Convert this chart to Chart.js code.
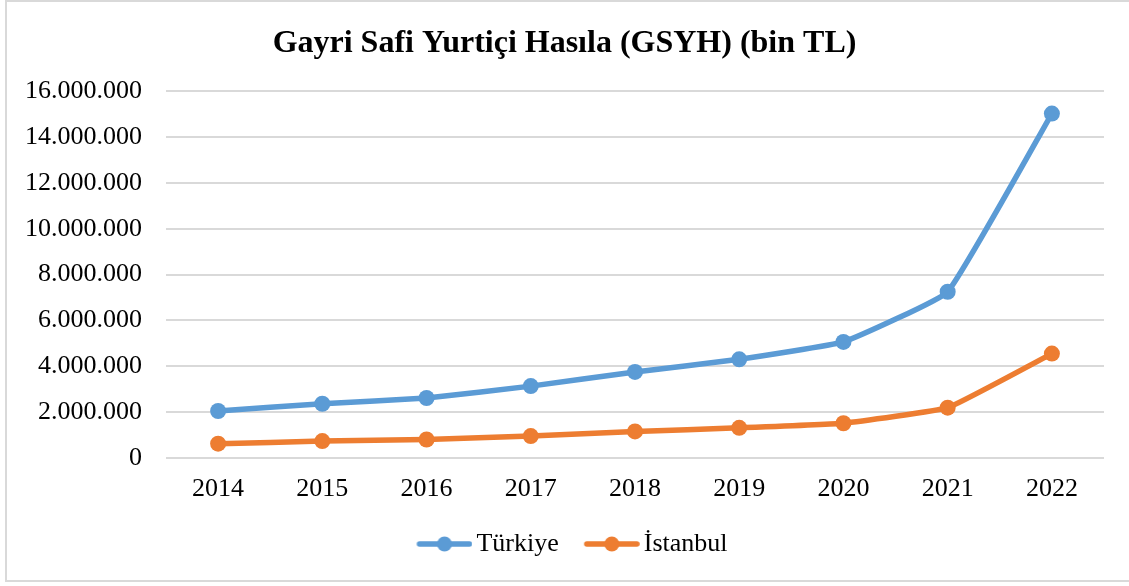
<!DOCTYPE html>
<html>
<head>
<meta charset="utf-8">
<script src="https://cdn.jsdelivr.net/npm/chart.js@4"></script>
<style>
    html, body { margin: 0; padding: 0; background: #fff; overflow: hidden; }
    #wrap { width: 1129px; height: 586px; position: relative; }
</style>
</head>
<body>
<div id="wrap"><canvas id="gsyhChart" width="1129" height="586"></canvas></div>
<script>
    const years = ["2014", "2015", "2016", "2017", "2018", "2019", "2020", "2021", "2022"];
    const turkiye = [2044000, 2360000, 2610000, 3130000, 3750000, 4300000, 5060000, 7250000, 15030000];
    const istanbul = [615000, 730000, 800000, 950000, 1150000, 1310000, 1510000, 2190000, 4550000];
    const seriesNames = ["Türkiye", "İstanbul"];
    const colors = ["#5B9BD5", "#ED7D31"];

    const FONT = "'Liberation Serif', 'Times New Roman', serif";

    // legend marker: short line with a dot, like the Excel legend
    // canvas is wider than the drawn part so the line sits right next to the text
    function legendIcon(color) {
        const c = document.createElement("canvas");
        c.width = 80;
        c.height = 18;
        const g = c.getContext("2d");
        g.strokeStyle = color;
        g.lineWidth = 5.5;
        g.lineCap = "round";
        g.beginPath();
        g.moveTo(27, 9);
        g.lineTo(77, 9);
        g.stroke();
        g.fillStyle = color;
        g.beginPath();
        g.arc(52, 9, 7.5, 0, Math.PI * 2);
        g.fill();
        return c;
    }

    const frame = {
        id: "frame",
        beforeDraw(chart) {
            const ctx = chart.ctx;
            ctx.save();
            ctx.fillStyle = "#fff";
            ctx.fillRect(0, 0, chart.width, chart.height);
            ctx.strokeStyle = "#d9d9d9";
            ctx.lineWidth = 2;
            ctx.strokeRect(6, 1, 1140, 580);
            ctx.restore();
        },
    };

    function fmt(v) {
        return String(Math.round(v)).replace(/\B(?=(\d{3})+(?!\d))/g, ".");
    }

    new Chart(document.getElementById("gsyhChart"), {
        type: "line",
        data: {
            labels: years,
            datasets: [turkiye, istanbul].map((vals, i) => ({
                label: seriesNames[i],
                data: vals,
                borderColor: colors[i],
                backgroundColor: colors[i],
                borderWidth: 5.5,
                pointRadius: 8,
                pointHoverRadius: 8,
                pointBorderWidth: 0,
                pointStyle: "circle",
                tension: 0.1,
                yAxisID: "y",
            })),
        },
        options: {
            responsive: false,
            animation: false,
            layout: { padding: { left: 0, right: 0, top: 0, bottom: 19 } },
            plugins: {
                title: {
                    display: true,
                    text: "Gayri Safi Yurtiçi Hasıla (GSYH) (bin TL)",
                    color: "#000",
                    font: { family: FONT, size: 32, weight: "bold", lineHeight: 1.2 },
                    padding: { top: 25, bottom: 28 },
                },
                legend: {
                    position: "bottom",
                    labels: {
                        color: "#000",
                        font: { family: FONT, size: 26 },
                        usePointStyle: true,
                        pointStyleWidth: 62,
                        padding: 10,
                        generateLabels(chart) {
                            return chart.data.datasets.map((ds, i) => ({
                                text: ds.label,
                                fillStyle: ds.borderColor,
                                strokeStyle: ds.borderColor,
                                lineWidth: 0,
                                pointStyle: legendIcon(ds.borderColor),
                                fontColor: "#000",
                                datasetIndex: i,
                                hidden: false,
                            }));
                        },
                    },
                },
                tooltip: { enabled: false },
            },
            scales: {
                x: {
                    offset: true,
                    grid: { display: false, drawTicks: false },
                    border: { display: false },
                    ticks: {
                        color: "#000",
                        font: { family: FONT, size: 26 },
                        padding: 16,
                        maxRotation: 0,
                    },
                },
                y: {
                    min: 0,
                    max: 16000000,
                    afterFit(scale) {
                        scale.width = 166;
                    },
                    grid: { color: "#d9d9d9", lineWidth: 2, drawTicks: false },
                    border: { display: false },
                    ticks: {
                        stepSize: 2000000,
                        color: "#000",
                        font: { family: FONT, size: 26 },
                        padding: 24,
                        callback: (v) => fmt(v),
                    },
                },
                // empty right margin so the legend centres on the full width
                yRight: {
                    position: "right",
                    grid: { display: false, drawTicks: false },
                    border: { display: false },
                    ticks: { display: false },
                    afterFit(scale) {
                        scale.width = 25;
                    },
                },
            },
        },
        plugins: [frame],
    });
</script>
</body>
</html>
